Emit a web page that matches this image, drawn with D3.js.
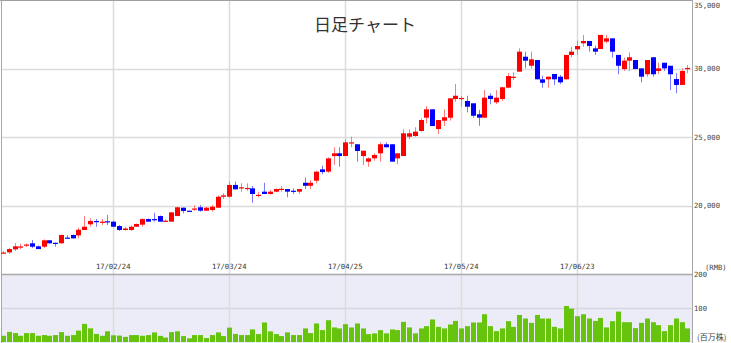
<!DOCTYPE html>
<html>
<head>
<meta charset="utf-8">
<script src="https://cdn.jsdelivr.net/npm/d3@7"></script>
<style>
  body { margin: 0; background: #fff; }
  text { font-family: "Noto Sans CJK JP", "Noto Sans", sans-serif; }
  .num text, text.num { font-family: "DejaVu Sans Mono", monospace; }
</style>
</head>
<body>
<div id="chart"></div>
<script>
// trading days (yy/mm/dd)
var dates = [
  '17/01/23','17/01/24','17/01/25','17/01/26',
  '17/02/03','17/02/06','17/02/07','17/02/08','17/02/09','17/02/10','17/02/13','17/02/14','17/02/15','17/02/16','17/02/17',
  '17/02/20','17/02/21','17/02/22','17/02/23','17/02/24','17/02/27','17/02/28',
  '17/03/01','17/03/02','17/03/03','17/03/06','17/03/07','17/03/08','17/03/09','17/03/10','17/03/13','17/03/14','17/03/15',
  '17/03/16','17/03/17','17/03/20','17/03/21','17/03/22','17/03/23','17/03/24','17/03/27','17/03/28','17/03/29','17/03/30','17/03/31',
  '17/04/05','17/04/06','17/04/07','17/04/10','17/04/11','17/04/12','17/04/13','17/04/14','17/04/17','17/04/18','17/04/19',
  '17/04/20','17/04/21','17/04/24','17/04/25','17/04/26','17/04/27','17/04/28',
  '17/05/02','17/05/03','17/05/04','17/05/05','17/05/08','17/05/09','17/05/10','17/05/11','17/05/12','17/05/15','17/05/16',
  '17/05/17','17/05/18','17/05/19','17/05/22','17/05/23','17/05/24','17/05/25','17/05/26','17/05/31',
  '17/06/01','17/06/02','17/06/05','17/06/06','17/06/07','17/06/08','17/06/09','17/06/12','17/06/13','17/06/14','17/06/15',
  '17/06/16','17/06/19','17/06/20','17/06/21','17/06/22','17/06/23','17/06/26','17/06/27','17/06/28','17/06/29','17/06/30',
  '17/07/03','17/07/04','17/07/05','17/07/06','17/07/07','17/07/10','17/07/11','17/07/12','17/07/13','17/07/14',
  '17/07/17','17/07/18','17/07/19','17/07/20'
]

var opens = [16490,16580,16800,16970,17080,17240,17020,16990,17460,17280,
  17240,17660,17850,17820,18210,18630,18870,18760,18850,18820,
  18500,18210,18210,18450,18600,19010,19010,19230,18820,18820,
  19230,19840,19620,19710,19870,19620,19670,19840,20640,20640,
  21500,21250,21200,21250,20730,21010,20840,21010,21170,21200,
  21080,21010,21660,21440,21810,22640,22470,23610,23810,23610,
  24560,24470,23610,23200,23440,23810,24470,24470,23440,23610,
  25020,25070,25440,26410,27020,25580,26190,26410,27770,27790,
  27630,27460,26660,26410,28010,27530,27770,28600,29330,29770,
  30860,30200,30620,29210,29210,29600,29400,29210,30990,31400,
  31840,32010,31470,31420,31960,32200,30990,29960,30570,30620,
  30010,29580,30820,29820,30420,30200,29230,28800,29980]

var highs = [16680,16900,17260,17210,17220,17480,17080,17530,17480,17300,
  17870,17840,17880,18380,19230,19060,19010,19010,19310,18890,
  18580,18450,18540,18680,19060,19050,19470,19270,19010,19520,
  19890,19850,19630,20010,20040,19890,20040,20730,20890,21740,
  21740,21620,21620,21420,21010,21660,21130,21240,21420,21200,
  21250,21200,22030,21860,22540,22900,23520,24250,24250,24850,
  25020,24490,24000,23520,23810,24610,24610,24470,23810,25560,
  25560,25710,26360,27260,27020,26240,27020,27820,28870,27990,
  28010,27460,26970,28430,28190,28430,28670,29650,29720,31470,
  31230,31230,30620,29470,29400,29600,29530,30990,31590,32030,
  32450,32010,31660,32450,32450,32200,30990,30790,31180,30620,
  30010,30620,30820,30420,30420,30200,29650,30010,30250]

var lows = [16490,16460,16680,16800,16970,16900,16820,16900,17220,16990,
  17220,17590,17590,17600,18210,18450,18450,18580,18580,18410,
  18140,18170,18140,18430,18450,18820,18820,18820,18820,18820,
  19230,19430,19560,19600,19550,19600,19550,19820,20470,20570,
  21180,21010,21080,20200,20600,20840,20800,20980,21010,20600,
  20840,20840,21200,21200,21620,22280,22390,22960,22830,23610,
  24250,23200,22960,22830,23270,23200,24250,23200,23010,23610,
  24850,25020,25390,26000,25800,25200,25800,26190,27580,27210,
  26800,26410,25820,26410,27390,27410,27630,28550,29160,29770,
  30010,30010,29210,28600,28600,28800,28850,29210,30820,30990,
  31590,31230,30990,31420,31840,30790,29580,29820,29820,29960,
  28990,29400,29400,29580,29820,28430,28190,28800,29650]

var closes = [16570,16820,17020,17010,17150,16990,16820,17460,17240,17240,
  17850,17600,17600,18230,18450,18870,18790,18820,18790,18450,
  18210,18320,18450,18650,19010,18820,18940,18820,18890,19500,
  19870,19600,19580,19780,19620,19840,19910,20640,20740,21500,
  21180,21330,21280,20840,20780,20840,21010,21200,21220,21010,
  21010,21200,21440,21660,22470,22440,23440,23810,23610,24610,
  24610,23980,24000,23440,23690,24470,24250,23200,23810,25270,
  25270,25390,26240,27020,25800,26240,26440,27820,28010,27850,
  27210,26550,26410,27870,27770,27870,28630,29450,29400,31230,
  30570,30670,29210,28960,29400,29210,28990,30990,31230,31640,
  32010,31640,31230,32450,32200,31230,30200,30570,30820,29960,
  29400,30620,29580,30010,30010,29580,28800,29820,30040]

// million shares
var volumes = [18.5,30,26.5,18.5,26.5,26.5,18.5,20.6,18.5,20.6,
  29.4,18.5,20.6,33.8,53.8,40.6,24,18.5,31.8,20,
  19,15.3,20.6,20.6,18.5,20.6,28.5,18.2,13.2,29.4,
  31.8,17.6,10.9,20.6,20.6,11.8,20.6,28.5,17.6,42.6,
  24,20.6,20.6,37.4,23.5,57.9,31.5,23.5,17.6,28.5,
  20.6,20.6,40.3,26.5,55,35.3,64.7,43.2,40.3,52.9,
  43.2,55,40.3,23.5,25.6,35.3,25.6,37.4,35.3,59.7,
  43.2,25.6,40.3,47,66.8,45,40.3,52,62.6,40.3,
  47,57.9,57.9,82.4,47,32.4,40.3,61.8,45,80.3,
  69.7,56.8,80.3,69.7,69.7,45,40.3,106.8,99.1,76.5,
  82.4,69.7,62.6,71.5,43.2,61.8,90.3,58.8,58.8,41.2,
  56.8,69.7,58.8,50,32.4,50,69.7,58.8,40.3]

var tickDates = ['17/02/24', '17/03/24', '17/04/25', '17/05/24', '17/06/23']
var priceTicks = [20000, 25000, 30000, 35000]
var volTicks = [100, 200]

var W = 731, H = 343
var left = 1.5, right = 692.5, split = 274.5

var svg = d3.select('#chart').append('svg')
  .attr('width', W)
  .attr('height', H)

var x = d3.scaleBand().domain(dates).range([0.1, 690.3]).paddingInner(0.3).paddingOuter(0.15)
var y = d3.scaleLinear().domain([15000, 35000]).range([274, 0])
var yv = d3.scaleLinear().domain([0, 200]).range([342, 274.6])

// volume panel background
svg.append('rect')
  .attr('x', left).attr('y', split)
  .attr('width', right - left).attr('height', H - split)
  .attr('fill', '#ececf8')

// horizontal grid
svg.selectAll('line.hgrid')
  .data(priceTicks.slice(0, 3))
  .enter().append('line')
    .attr('x1', left).attr('x2', right)
    .attr('y1', d => Math.round(y(d)) + 0.5)
    .attr('y2', d => Math.round(y(d)) + 0.5)
    .attr('stroke', '#dcdcdc').attr('stroke-width', 1.5)

svg.selectAll('line.vgrid')
  .data([100])
  .enter().append('line')
    .attr('x1', left).attr('x2', right)
    .attr('y1', d => Math.round(yv(d)) + 0.5)
    .attr('y2', d => Math.round(yv(d)) + 0.5)
    .attr('stroke', '#d6d6e2').attr('stroke-width', 1.5)

// vertical grid
svg.selectAll('line.xgrid')
  .data(tickDates)
  .enter().append('line')
    .attr('x1', d => Math.round(x(d) + x.bandwidth() / 2) + 0.5)
    .attr('x2', d => Math.round(x(d) + x.bandwidth() / 2) + 0.5)
    .attr('y1', 0).attr('y2', H)
    .attr('stroke', '#dcdcdc').attr('stroke-width', 1.5)

// frame
svg.append('line').attr('x1', 0).attr('x2', right).attr('y1', 0.5).attr('y2', 0.5).attr('stroke', '#a0a0a0')
svg.append('line').attr('x1', left).attr('x2', left).attr('y1', 0).attr('y2', H).attr('stroke', '#a8a8a8')
svg.append('line').attr('x1', right).attr('x2', right).attr('y1', 0).attr('y2', H).attr('stroke', '#a8a8a8')
svg.append('line').attr('x1', left).attr('x2', right).attr('y1', split).attr('y2', split).attr('stroke', '#a8a8a8').attr('stroke-width', 1.5)

// volume bars
svg.append('g').selectAll('rect')
  .data(dates)
  .enter().append('rect')
    .attr('x', d => Math.round(x(d)))
    .attr('width', 5)
    .attr('y', (d, i) => yv(volumes[i]))
    .attr('height', (d, i) => yv(0) - yv(volumes[i]))
    .attr('fill', '#66c40e')

// candles
var candles = svg.append('g').selectAll('g')
  .data(dates)
  .enter().append('g')

candles.append('line')
  .attr('x1', d => Math.round(x(d)) + 2.5)
  .attr('x2', d => Math.round(x(d)) + 2.5)
  .attr('y1', (d, i) => y(highs[i]))
  .attr('y2', (d, i) => y(lows[i]))
  .attr('stroke', (d, i) => closes[i] >= opens[i] ? '#ff7a7a' : '#7a7aff')
  .attr('stroke-width', 1)

candles.append('rect')
  .attr('x', d => Math.round(x(d)))
  .attr('width', 5)
  .attr('y', (d, i) => y(Math.max(opens[i], closes[i])))
  .attr('height', (d, i) => Math.max(1.2, Math.abs(y(opens[i]) - y(closes[i]))))
  .attr('fill', (d, i) => closes[i] >= opens[i] ? '#ff0000' : '#0000ff')

// axes
var axisFont = 7.2

var xAxis = svg.append('g')
  .attr('class', 'num')
  .attr('transform', 'translate(0,261)')
  .call(d3.axisBottom(x).tickValues(tickDates).tickSize(0).tickPadding(3))
xAxis.select('.domain').remove()
xAxis.selectAll('text').attr('fill', '#333').style('font-size', axisFont + 'px')

var yAxis = svg.append('g')
  .attr('class', 'num')
  .attr('transform', 'translate(' + right + ',0)')
  .call(d3.axisRight(y).tickValues(priceTicks).tickSize(0).tickPadding(1.5).tickFormat(d3.format(',')))
yAxis.select('.domain').remove()
yAxis.selectAll('text').attr('fill', '#444').style('font-size', axisFont + 'px')
yAxis.selectAll('.tick').filter(d => d === 35000).select('text').attr('y', 5)

var vAxis = svg.append('g')
  .attr('class', 'num')
  .attr('transform', 'translate(' + right + ',0)')
  .call(d3.axisRight(yv).tickValues(volTicks).tickSize(0).tickPadding(1.5))
vAxis.select('.domain').remove()
vAxis.selectAll('text').attr('fill', '#444').style('font-size', axisFont + 'px')

svg.append('text')
  .attr('class', 'num')
  .attr('x', 705).attr('y', 269.5)
  .attr('fill', '#444').style('font-size', axisFont + 'px')
  .text('(RMB)')

svg.append('text')
  .attr('x', 697).attr('y', 339.5)
  .attr('fill', '#444').style('font-size', '8px')
  .text('(百万株)')

// title
svg.append('text')
  .attr('x', 365).attr('y', 31)
  .attr('text-anchor', 'middle')
  .attr('fill', '#333')
  .style('font-size', '17px')
  .text('日足チャート')
</script>
</body>
</html>
